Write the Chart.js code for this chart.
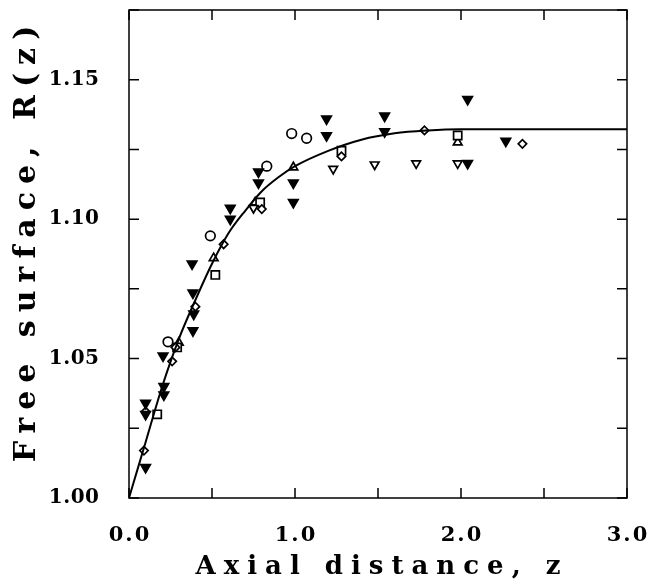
<!DOCTYPE html>
<html><head><meta charset="utf-8">
<script src="https://cdn.jsdelivr.net/npm/chart.js@4/dist/chart.umd.min.js"></script>
<style>html,body{margin:0;padding:0;background:#fff}</style>
</head><body>
<canvas id="c" width="647" height="580"></canvas>
<script>
// ---- data ----
const curveZ = [0, 0.05, 0.1, 0.2, 0.3, 0.4, 0.5, 0.6, 0.7, 0.8, 0.9, 1.0, 1.2, 1.4, 1.6, 1.8, 2.0, 2.5, 3.0];
const curveR = [1.000, 1.010, 1.020, 1.040, 1.057, 1.071, 1.084, 1.095, 1.103, 1.110, 1.115, 1.119, 1.1245, 1.1285, 1.1308, 1.1318, 1.1322, 1.1322, 1.1322];

const filledTriZ = [0.10, 0.10, 0.10, 0.21, 0.21, 0.205, 0.38, 0.385, 0.39, 0.385, 0.61, 0.61, 0.78, 0.78, 0.99, 0.99, 1.19, 1.19, 1.54, 1.54, 2.04, 2.04, 2.27];
const filledTriR = [1.034, 1.030, 1.011, 1.040, 1.037, 1.051, 1.084, 1.0736, 1.066, 1.060, 1.104, 1.100, 1.117, 1.113, 1.113, 1.106, 1.136, 1.130, 1.137, 1.1314, 1.143, 1.120, 1.128];

const openTriZ = [0.75, 1.23, 1.48, 1.73, 1.98];
const openTriR = [1.104, 1.118, 1.1196, 1.120, 1.120];

const circleZ = [0.235, 0.49, 0.83, 0.98, 1.07];
const circleR = [1.056, 1.094, 1.119, 1.1307, 1.129];

const diamondZ = [0.09, 0.10, 0.26, 0.28, 0.40, 0.57, 0.80, 1.28, 1.78, 2.37];
const diamondR = [1.017, 1.031, 1.049, 1.054, 1.0686, 1.091, 1.1036, 1.1225, 1.1318, 1.127];

const squareZ = [0.17, 0.29, 0.52, 0.79, 1.28, 1.98];
const squareR = [1.030, 1.054, 1.080, 1.106, 1.1245, 1.130];

const upTriZ = [0.30, 0.51, 0.76, 0.99, 1.98];
const upTriR = [1.0557, 1.086, 1.106, 1.1186, 1.1275];

const xLabelValues = [0, 1, 2, 3];
const yLabelValues = [1.00, 1.05, 1.10, 1.15];
const xTitle = 'Axial distance, z';
const yTitle = 'Free surface, R(z)';

// ---- helpers ----
const pts = (zs, rs) => zs.map((z, i) => ({x: z, y: rs[i]}));
const FAMILY = "'DejaVu Serif', 'Liberation Serif', serif";

// per font size: [letter spacing, shift along text, shift across text]
const spacing = {20: [0.5, 0, 0], 21: [2, 0, 0], 26: [8, 0, 3], 30: [8, 10, 0]};
const spacingPlugin = {
  id: 'spacing',
  beforeInit(chart) {
    const ctx = chart.ctx;
    const orig = ctx.fillText;
    ctx.fillText = function (t, x, y, m) {
      const mm = /(\d+(?:\.\d+)?)px/.exec(this.font);
      const s = mm ? spacing[Math.round(parseFloat(mm[1]))] : null;
      let dx = 0, dy = 0;
      if (s && 'letterSpacing' in this) {
        this.letterSpacing = s[0] + 'px';
        if (this.textAlign === 'center') dx = s[0] / 2 + s[1];
        else if (this.textAlign === 'right') dx = s[0];
        dy = s[2];
      } else if ('letterSpacing' in this) {
        this.letterSpacing = '0px';
      }
      if (m === undefined) return orig.call(this, t, x + dx, y + dy);
      return orig.call(this, t, x + dx, y + dy, m);
    };
  }
};

const framePlugin = {
  id: 'frame',
  beforeDatasetsDraw(chart) {
    const {ctx, chartArea: a, scales: {x, y}} = chart;
    ctx.save();
    ctx.strokeStyle = '#000';
    ctx.lineWidth = 1.5;
    ctx.strokeRect(a.left, a.top, a.right - a.left, a.bottom - a.top);
    ctx.beginPath();
    const L = 10;
    x.ticks.forEach(t => {
      const px = x.getPixelForValue(t.value);
      ctx.moveTo(px, a.bottom); ctx.lineTo(px, a.bottom - L);
      ctx.moveTo(px, a.top); ctx.lineTo(px, a.top + L);
    });
    y.ticks.forEach(t => {
      const py = y.getPixelForValue(t.value);
      ctx.moveTo(a.left, py); ctx.lineTo(a.left + L, py);
      ctx.moveTo(a.right, py); ctx.lineTo(a.right - L, py);
    });
    ctx.stroke();
    ctx.restore();
  }
};

const marker = (label, data, style, fill, r, rot) => ({
  type: 'scatter', label, data,
  pointStyle: style, pointRadius: r, pointHoverRadius: r,
  pointRotation: rot || 0,
  pointBackgroundColor: fill, backgroundColor: fill,
  pointBorderColor: '#000', borderColor: '#000', pointBorderWidth: 1.7,
  showLine: false
});

new Chart(document.getElementById('c'), {
  data: {
    datasets: [
      {
        type: 'line', label: 'model', data: pts(curveZ, curveR),
        borderColor: '#000', borderWidth: 2, pointRadius: 0,
        cubicInterpolationMode: 'monotone', fill: false
      },
      marker('filled down', pts(filledTriZ, filledTriR), 'triangle', '#000', 5.5, 180),
      marker('open down', pts(openTriZ, openTriR), 'triangle', '#fff', 5, 180),
      marker('circle', pts(circleZ, circleR), 'circle', '#fff', 4.8),
      marker('diamond', pts(diamondZ, diamondR), 'rectRot', '#fff', 4.2),
      marker('square', pts(squareZ, squareR), 'rect', '#fff', 5.8),
      marker('up', pts(upTriZ, upTriR), 'triangle', '#fff', 5)
    ]
  },
  options: {
    responsive: false,
    animation: false,
    events: [],
    layout: {padding: {top: 10, right: 20, left: 0, bottom: 0}},
    plugins: {legend: {display: false}, tooltip: {enabled: false}},
    scales: {
      x: {
        type: 'linear', min: 0, max: 3,
        grid: {display: false, drawTicks: false},
        border: {display: false},
        ticks: {
          stepSize: 0.5, padding: 25, maxRotation: 0, autoSkip: false,
          color: '#000', font: {family: FAMILY, size: 21, weight: 'bold'},
          callback: v => xLabelValues.some(q => Math.abs(q - v) < 1e-6) ? v.toFixed(1) : ''
        },
        title: {display: true, text: xTitle, color: '#000',
          font: {family: FAMILY, size: 26, weight: 'bold'}, padding: {top: 0, bottom: 0}},
        afterFit(s) { s.height = 82; s.paddingLeft = 0; s.paddingRight = 0; }
      },
      y: {
        type: 'linear', min: 1.0, max: 1.175,
        grid: {display: false, drawTicks: false},
        border: {display: false},
        ticks: {
          stepSize: 0.025, padding: 30, autoSkip: false,
          color: '#000', font: {family: FAMILY, size: 20, weight: 'bold'},
          callback: v => yLabelValues.some(q => Math.abs(q - v) < 1e-6) ? v.toFixed(2) : ''
        },
        title: {display: true, text: yTitle, color: '#000',
          font: {family: FAMILY, size: 30, weight: 'bold'}, padding: {top: 9, bottom: 0}},
        afterFit(s) { s.width = 129; s.paddingTop = 0; s.paddingBottom = 0; }
      }
    }
  },
  plugins: [spacingPlugin, framePlugin]
});
</script>
</body></html>
